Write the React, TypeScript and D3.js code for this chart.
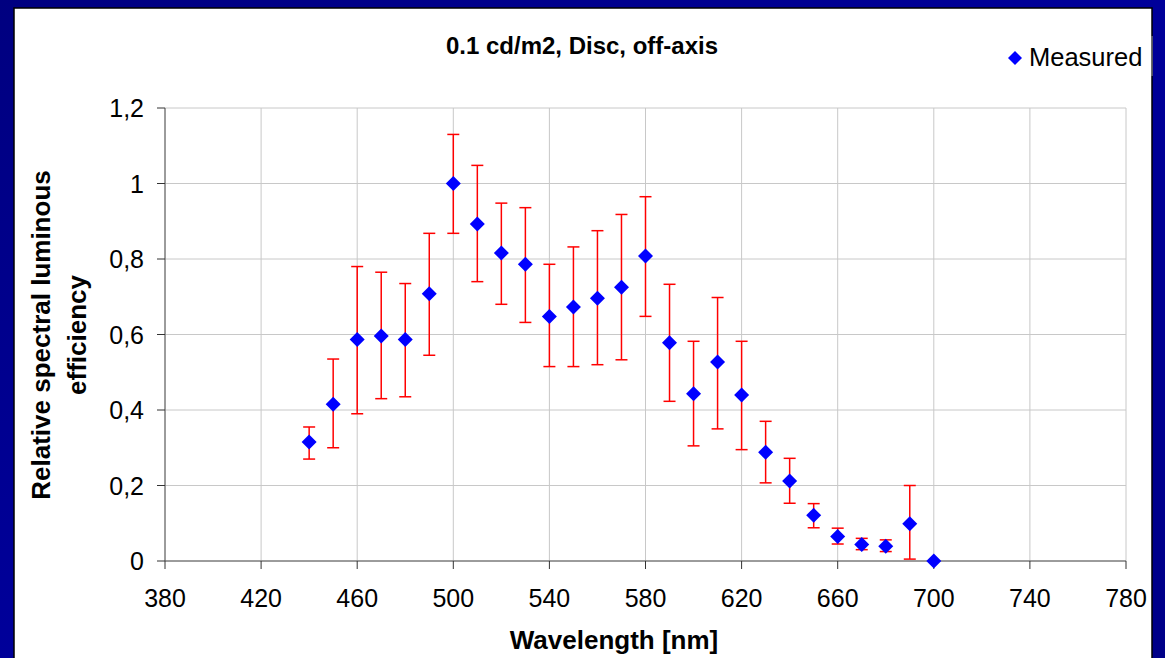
import React from "react";
import * as d3 from "d3";

const wavelengths = [440,450,460,470,480,490,500,510,520,530,540,550,560,570,580,590,600,610,620,630,640,650,660,670,680,690,700];
const measured = [0.315,0.415,0.587,0.596,0.587,0.708,1.0,0.893,0.816,0.786,0.648,0.673,0.696,0.725,0.808,0.578,0.443,0.527,0.44,0.288,0.212,0.121,0.065,0.044,0.039,0.099,0];
const lower = [0.27,0.30,0.39,0.43,0.435,0.545,0.868,0.74,0.68,0.632,0.515,0.515,0.52,0.533,0.648,0.423,0.305,0.35,0.295,0.207,0.153,0.088,0.045,0.03,0.025,0.005,0];
const upper = [0.355,0.535,0.78,0.765,0.735,0.868,1.13,1.048,0.948,0.936,0.786,0.832,0.875,0.918,0.965,0.733,0.582,0.698,0.582,0.37,0.272,0.152,0.087,0.06,0.056,0.2,0];
const xTicks = [380,420,460,500,540,580,620,660,700,740,780];
const yTicks = [0,0.2,0.4,0.6,0.8,1,1.2];

export default function App() {
  const W = 1165, H = 658;
  const x = d3.scaleLinear().domain([380, 780]).range([165, 1126]);
  const y = d3.scaleLinear().domain([0, 1.2]).range([561, 108]);
  const font = "Arial, 'Liberation Sans', sans-serif";
  const fmt = (v: number) => String(+v.toFixed(1)).replace(".", ",");
  const diamond = (cx: number, cy: number, r: number) =>
    `M${cx},${cy - r}L${cx + r},${cy}L${cx},${cy + r}L${cx - r},${cy}Z`;
  return (
    <svg width={W} height={H} style={{ position: "absolute", left: 0, top: 0 }}>
      <defs>
        <linearGradient id="bg" x1="0" y1="0" x2="1" y2="1">
          <stop offset="0" stopColor="#000080" />
          <stop offset="0.5" stopColor="#00009a" />
          <stop offset="1" stopColor="#000088" />
        </linearGradient>
      </defs>
      <rect width={W} height={H} fill="url(#bg)" />
      <rect x={14} y={8} width={1138} height={660} fill="#fff" stroke="#000" strokeWidth={1.5} />
      {xTicks.map((t) => (
        <line key={"gx" + t} x1={x(t)} x2={x(t)} y1={y(1.2)} y2={y(0)} stroke="#c8c8c8" />
      ))}
      {yTicks.map((t) => (
        <line key={"gy" + t} x1={x(380)} x2={x(780)} y1={y(t)} y2={y(t)} stroke="#c8c8c8" />
      ))}
      <line x1={x(380)} x2={x(380)} y1={y(1.2)} y2={y(0)} stroke="#555" />
      <line x1={x(380)} x2={x(780)} y1={y(0)} y2={y(0)} stroke="#555" />
      {yTicks.map((t) => (
        <g key={"ty" + t}>
          <line x1={x(380) - 8} x2={x(380)} y1={y(t)} y2={y(t)} stroke="#333" />
          <text x={x(380) - 21} y={y(t)} dy="0.36em" textAnchor="end" fontFamily={font} fontSize={25}>{fmt(t)}</text>
        </g>
      ))}
      {xTicks.map((t) => (
        <g key={"tx" + t}>
          <line x1={x(t)} x2={x(t)} y1={y(0)} y2={y(0) + 8} stroke="#333" />
          <text x={x(t)} y={y(0) + 46} textAnchor="middle" fontFamily={font} fontSize={25}>{t}</text>
        </g>
      ))}
      {wavelengths.map((w, i) => (
        <g key={"e" + w} stroke="#ff0000" strokeWidth={1.5}>
          <line x1={x(w)} x2={x(w)} y1={y(lower[i])} y2={y(upper[i])} />
          <line x1={x(w) - 6} x2={x(w) + 6} y1={y(lower[i])} y2={y(lower[i])} />
          <line x1={x(w) - 6} x2={x(w) + 6} y1={y(upper[i])} y2={y(upper[i])} />
        </g>
      ))}
      {wavelengths.map((w, i) => (
        <path key={"m" + w} d={diamond(x(w), y(measured[i]), 7.5)} fill="#0000ff" />
      ))}
      <text x={582} y={54} textAnchor="middle" fontFamily={font} fontSize={24} fontWeight="bold">0.1 cd/m2, Disc, off-axis</text>
      <text x={614} y={649} textAnchor="middle" fontFamily={font} fontSize={26} fontWeight="bold">Wavelength [nm]</text>
      <text transform="translate(50,335) rotate(-90)" textAnchor="middle" fontFamily={font} fontSize={26} fontWeight="bold">Relative spectral luminous</text>
      <text transform="translate(86,335) rotate(-90)" textAnchor="middle" fontFamily={font} fontSize={26} fontWeight="bold">efficiency</text>
      <path d={diamond(1015, 58, 7)} fill="#0000ff" />
      <text x={1029} y={66} fontFamily={font} fontSize={25.5}>Measured</text>
      <line x1={1152} x2={1152} y1={36} y2={76} stroke="#999" />
    </svg>
  );
}
